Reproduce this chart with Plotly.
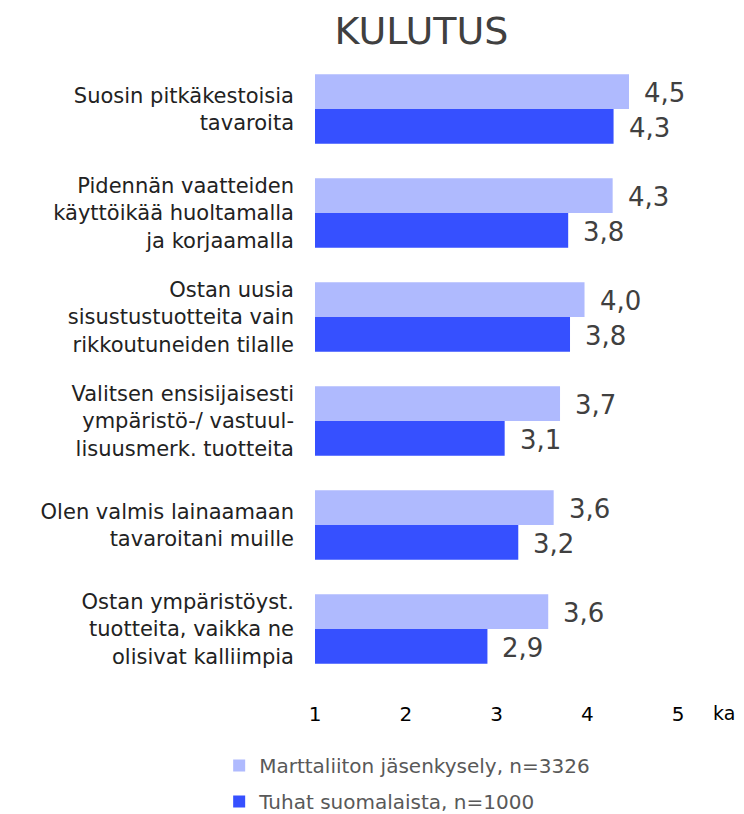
import plotly.graph_objects as go

categories = [
    "Suosin pitkäkestoisia<br>tavaroita",
    "Pidennän vaatteiden<br>käyttöikää huoltamalla<br>ja korjaamalla",
    "Ostan uusia<br>sisustustuotteita vain<br>rikkoutuneiden tilalle",
    "Valitsen ensisijaisesti<br>ympäristö-/ vastuul-<br>lisuusmerk. tuotteita",
    "Olen valmis lainaamaan<br>tavaroitani muille",
    "Ostan ympäristöyst.<br>tuotteita, vaikka ne<br>olisivat kalliimpia",
]
marttaliitto = [4.46, 4.28, 3.97, 3.70, 3.63, 3.57]
tuhat = [4.29, 3.79, 3.81, 3.09, 3.24, 2.90]
marttaliitto_labels = ["4,5", "4,3", "4,0", "3,7", "3,6", "3,6"]
tuhat_labels = ["4,3", "3,8", "3,8", "3,1", "3,2", "2,9"]
tick_vals = [1, 2, 3, 4, 5]
tick_text = ["1", "2", "3", "4", "5"]

FONT = "DejaVu Sans"
LIGHT = "#AFBAFE"
DARK = "#3650FF"

fig = go.Figure()
fig.add_trace(go.Bar(
    name="Marttaliiton jäsenkysely, n=3326", legendgroup="a",
    y=categories, x=[v - 1 for v in marttaliitto], base=1,
    orientation="h", marker=dict(color=LIGHT, line=dict(width=0)),
    hoverinfo="skip",
))
fig.add_trace(go.Bar(
    name="Tuhat suomalaista, n=1000", legendgroup="b",
    y=categories, x=[v - 1 for v in tuhat], base=1,
    orientation="h", marker=dict(color=DARK, line=dict(width=0)),
    hoverinfo="skip",
))

annotations = []
for c, v, t in zip(categories, marttaliitto, marttaliitto_labels):
    annotations.append(dict(x=v, y=c, xref="x", yref="y", text=t, showarrow=False,
                            xanchor="left", yanchor="middle", xshift=13, yshift=16,
                            font=dict(family=FONT, size=26, color="#404040")))
for c, v, t in zip(categories, tuhat, tuhat_labels):
    annotations.append(dict(x=v, y=c, xref="x", yref="y", text=t, showarrow=False,
                            xanchor="left", yanchor="middle", xshift=13, yshift=-19,
                            font=dict(family=FONT, size=26, color="#404040")))
annotations.append(dict(x=1.128, y=-0.0513, xref="paper", yref="paper", text="ka",
                        showarrow=False, xanchor="center", yanchor="middle",
                        font=dict(family=FONT, size=19, color="#000000")))

fig.update_layout(
    width=744, height=814,
    margin=dict(l=307, r=74, t=49, b=141, autoexpand=False),
    paper_bgcolor="white", plot_bgcolor="white",
    title=dict(text="KULUTUS", x=0.5558, xanchor="center", xref="container",
               y=1, yanchor="top", yref="container", pad=dict(t=9),
               font=dict(family=FONT, size=38, color="#404040")),
    barmode="group", bargap=0.33, bargroupgap=0.0,
    showlegend=True,
    legend=dict(orientation="v", x=-0.264, xanchor="left", y=-0.104, yanchor="top",
                font=dict(family=FONT, size=20, color="#595959"),
                traceorder="grouped", tracegroupgap=7, bgcolor="rgba(0,0,0,0)"),
    annotations=annotations,
    font=dict(family=FONT),
)
fig.update_xaxes(range=[1, 5], tickvals=tick_vals, ticktext=tick_text, showgrid=False,
                 zeroline=False, showline=False, ticks="", ticklabelstandoff=19,
                 tickfont=dict(family=FONT, size=20, color="#000000"), fixedrange=True)
fig.update_yaxes(autorange="reversed", showgrid=False, zeroline=False, showline=False,
                 ticks="", ticklabelstandoff=20,
                 tickfont=dict(family=FONT, size=21, color="#222222"), fixedrange=True)

fig.write_html("out.html")
